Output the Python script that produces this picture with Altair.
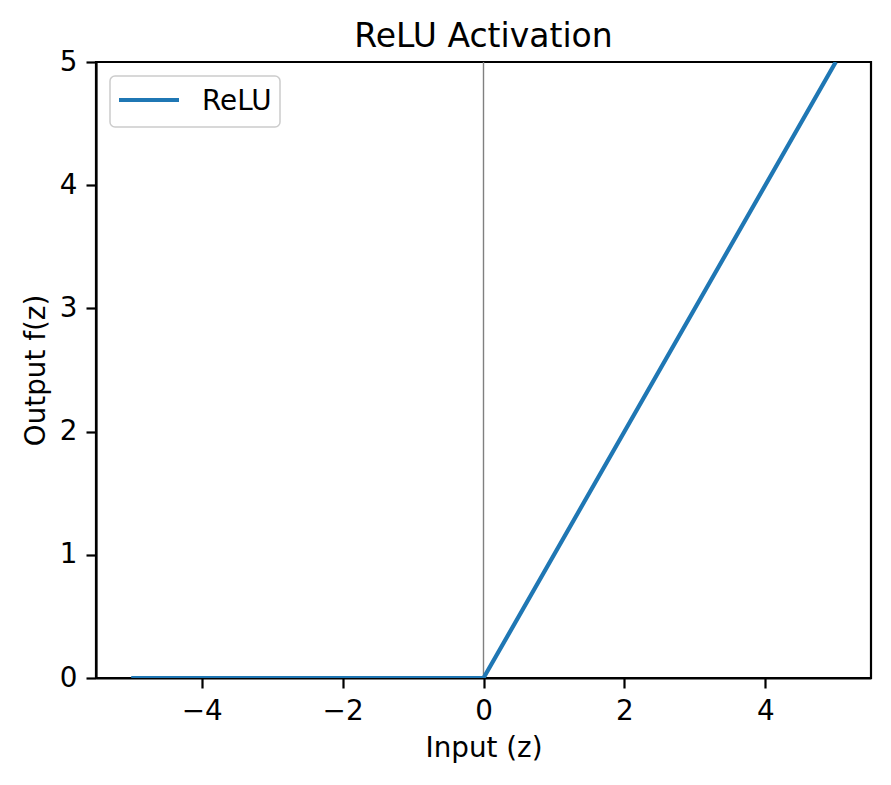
import altair as alt
import pandas as pd

# ---- data ----
z_values = [-5, 0, 5]
relu_values = [0, 0, 5]
x_ticks = [-4, -2, 0, 2, 4]
y_ticks = [0, 1, 2, 3, 4, 5]
series_names = ["ReLU"]
vline_at = [0]

line_df = pd.DataFrame({"z": z_values, "f": relu_values, "series": series_names[0]})
vline_df = pd.DataFrame({"z": vline_at})
legend_df = pd.DataFrame({"series": series_names})

FONT = "DejaVu Sans"
BLUE = "#1f77b4"

x_scale = alt.Scale(domain=[-5.5, 5.5], nice=False, zero=False)
y_scale = alt.Scale(domain=[0, 5], nice=False, zero=False)

x_axis = alt.Axis(title="Input (z)", values=x_ticks, grid=False, labelFlush=False,
                  labelPadding=9, titlePadding=10)
y_axis = alt.Axis(title="Output f(z)", values=y_ticks, grid=False, labelFlush=False,
                  labelPadding=9, titlePadding=15, titleBaseline="alphabetic")

vline = alt.Chart(vline_df).mark_rule(color="#808080", strokeWidth=1.4).encode(
    x=alt.X("z:Q", scale=x_scale, axis=x_axis)
)

line = alt.Chart(line_df).mark_line(color=BLUE, strokeWidth=4.2, clip=True).encode(
    x=alt.X("z:Q", scale=x_scale, axis=x_axis),
    y=alt.Y("f:Q", scale=y_scale, axis=y_axis),
)

legend_box = alt.Chart(legend_df).mark_rect(
    fill="white", fillOpacity=0.8, stroke="#cccccc", strokeWidth=1.5, cornerRadius=5
).encode(x=alt.value(14), x2=alt.value(184), y=alt.value(14), y2=alt.value(65))

legend_line = alt.Chart(legend_df).mark_rule(color=BLUE, strokeWidth=4.2).encode(
    x=alt.value(23), x2=alt.value(83), y=alt.value(38)
)

legend_text = alt.Chart(legend_df).mark_text(
    font=FONT, fontSize=27.8, align="left", baseline="alphabetic", color="black"
).encode(x=alt.value(106), y=alt.value(48), text="series:N")

chart = alt.layer(vline, line, legend_box, legend_line, legend_text).properties(
    width=775,
    height=616,
    title=alt.TitleParams("ReLU Activation", font=FONT, fontSize=33, fontWeight="normal",
                          color="black", baseline="alphabetic", offset=-32, anchor="middle"),
    autosize=alt.AutoSizeParams(type="none"),
    padding={"left": 88, "top": 54, "right": 12, "bottom": 99},
).configure_view(
    stroke="black", strokeWidth=2.2
).configure_axis(
    labelFont=FONT, titleFont=FONT, labelFontSize=27.8, titleFontSize=27.8,
    titleFontWeight="normal", labelColor="black", titleColor="black",
    domainColor="black", domainWidth=2.2, tickColor="black", tickWidth=2.2,
    tickSize=10,
)

chart.save("out.html", embed_options={"renderer": "svg", "actions": False})
